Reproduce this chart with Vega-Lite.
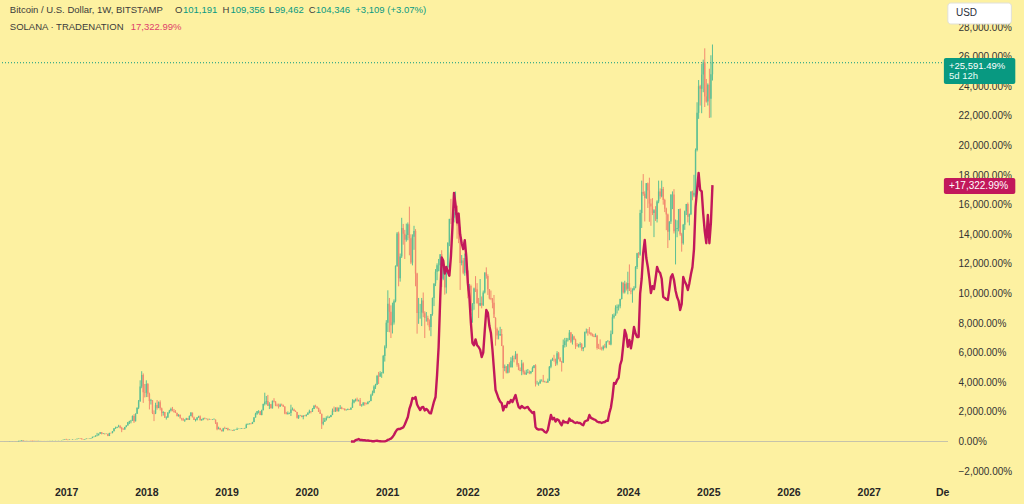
{
"$schema":"https://vega.github.io/schema/vega-lite/v6.json",
"width":948,"height":480,
"autosize":{"type":"none"},
"padding":{"left":0,"top":0,"right":76,"bottom":24},
"background":"#fdf1a1",
"config":{"view":{"stroke":null},"font":"Liberation Sans"},
"resolve":{"axis":{"x":"independent","y":"independent"}},
"datasets":{
"btc":[
{"d":"2016-03-28","o":2,"h":5,"l":0,"c":4},{"d":"2016-04-04","o":4,"h":6,"l":1,"c":3},{"d":"2016-04-11","o":3,"h":7,"l":2,"c":5},{"d":"2016-04-18","o":5,"h":13,"l":4,"c":11},{"d":"2016-04-25","o":11,"h":14,"l":8,"c":11},{"d":"2016-05-02","o":11,"h":16,"l":9,"c":13},{"d":"2016-05-09","o":13,"h":15,"l":10,"c":12},{"d":"2016-05-16","o":12,"h":13,"l":7,"c":9},{"d":"2016-05-23","o":9,"h":18,"l":7,"c":16},{"d":"2016-05-30","o":16,"h":48,"l":15,"c":42},{"d":"2016-06-06","o":42,"h":50,"l":38,"c":45},{"d":"2016-06-13","o":45,"h":92,"l":44,"c":87},{"d":"2016-06-20","o":87,"h":95,"l":40,"c":64},{"d":"2016-06-27","o":64,"h":72,"l":55,"c":66},{"d":"2016-07-04","o":66,"h":70,"l":55,"c":60},{"d":"2016-07-11","o":60,"h":68,"l":56,"c":64},{"d":"2016-07-18","o":64,"h":67,"l":58,"c":62},{"d":"2016-07-25","o":62,"h":64,"l":50,"c":54},{"d":"2016-08-01","o":54,"h":57,"l":20,"c":45},{"d":"2016-08-08","o":45,"h":50,"l":38,"c":40},{"d":"2016-08-15","o":40,"h":45,"l":38,"c":43},{"d":"2016-08-22","o":43,"h":46,"l":40,"c":42},{"d":"2016-08-29","o":42,"h":51,"l":40,"c":49},{"d":"2016-09-05","o":49,"h":56,"l":47,"c":54},{"d":"2016-09-12","o":54,"h":56,"l":49,"c":50},{"d":"2016-09-19","o":50,"h":52,"l":46,"c":48},{"d":"2016-09-26","o":48,"h":52,"l":46,"c":50},{"d":"2016-10-03","o":50,"h":53,"l":49,"c":51},{"d":"2016-10-10","o":51,"h":59,"l":50,"c":58},{"d":"2016-10-17","o":58,"h":62,"l":55,"c":61},{"d":"2016-10-24","o":61,"h":75,"l":60,"c":72},{"d":"2016-10-31","o":72,"h":82,"l":65,"c":74},{"d":"2016-11-07","o":74,"h":78,"l":70,"c":74},{"d":"2016-11-14","o":74,"h":82,"l":70,"c":80},{"d":"2016-11-21","o":80,"h":84,"l":76,"c":81},{"d":"2016-11-28","o":81,"h":90,"l":80,"c":88},{"d":"2016-12-05","o":88,"h":92,"l":86,"c":90},{"d":"2016-12-12","o":90,"h":96,"l":88,"c":94},{"d":"2016-12-19","o":94,"h":122,"l":93,"c":119},{"d":"2016-12-26","o":119,"h":148,"l":117,"c":146},
{"d":"2017-01-02","o":146,"h":183,"l":117,"c":122},{"d":"2017-01-09","o":122,"h":130,"l":85,"c":102},{"d":"2017-01-16","o":102,"h":132,"l":100,"c":127},{"d":"2017-01-23","o":127,"h":130,"l":120,"c":125},{"d":"2017-01-30","o":125,"h":155,"l":123,"c":151},{"d":"2017-02-06","o":151,"h":160,"l":135,"c":146},{"d":"2017-02-13","o":146,"h":162,"l":144,"c":159},{"d":"2017-02-20","o":159,"h":195,"l":157,"c":191},{"d":"2017-02-27","o":191,"h":215,"l":187,"c":213},{"d":"2017-03-06","o":213,"h":227,"l":180,"c":203},{"d":"2017-03-13","o":203,"h":210,"l":145,"c":151},{"d":"2017-03-20","o":151,"h":160,"l":120,"c":138},{"d":"2017-03-27","o":138,"h":170,"l":135,"c":166},{"d":"2017-04-03","o":166,"h":198,"l":164,"c":195},{"d":"2017-04-10","o":195,"h":200,"l":185,"c":191},{"d":"2017-04-17","o":191,"h":210,"l":189,"c":208},{"d":"2017-04-24","o":208,"h":235,"l":205,"c":232},{"d":"2017-05-01","o":232,"h":322,"l":230,"c":319},{"d":"2017-05-08","o":319,"h":340,"l":290,"c":331},{"d":"2017-05-15","o":331,"h":410,"l":325,"c":405},{"d":"2017-05-22","o":405,"h":580,"l":355,"c":417},{"d":"2017-05-29","o":417,"h":530,"l":415,"c":525},{"d":"2017-06-05","o":525,"h":640,"l":520,"c":626},{"d":"2017-06-12","o":626,"h":634,"l":480,"c":516},{"d":"2017-06-19","o":516,"h":570,"l":500,"c":540},{"d":"2017-06-26","o":540,"h":560,"l":470,"c":516},{"d":"2017-07-03","o":516,"h":545,"l":500,"c":516},{"d":"2017-07-10","o":516,"h":520,"l":360,"c":373},{"d":"2017-07-17","o":373,"h":590,"l":365,"c":577},{"d":"2017-07-24","o":577,"h":600,"l":530,"c":570},{"d":"2017-07-31","o":570,"h":700,"l":555,"c":693},{"d":"2017-08-07","o":693,"h":900,"l":690,"c":897},{"d":"2017-08-14","o":897,"h":1003,"l":850,"c":909},{"d":"2017-08-21","o":909,"h":1000,"l":900,"c":971},{"d":"2017-08-28","o":971,"h":1126,"l":965,"c":1033},{"d":"2017-09-04","o":1033,"h":1100,"l":880,"c":934},{"d":"2017-09-11","o":934,"h":990,"l":631,"c":811},{"d":"2017-09-18","o":811,"h":900,"l":780,"c":806},{"d":"2017-09-25","o":806,"h":990,"l":800,"c":978},{"d":"2017-10-02","o":978,"h":1100,"l":960,"c":1087},{"d":"2017-10-09","o":1087,"h":1320,"l":1080,"c":1303},{"d":"2017-10-16","o":1303,"h":1400,"l":1180,"c":1372},{"d":"2017-10-23","o":1372,"h":1460,"l":1230,"c":1409},{"d":"2017-10-30","o":1409,"h":1760,"l":1400,"c":1722},{"d":"2017-11-06","o":1722,"h":1845,"l":1254,"c":1365},{"d":"2017-11-13","o":1365,"h":1900,"l":1360,"c":1870},{"d":"2017-11-20","o":1870,"h":2300,"l":1860,"c":2288},{"d":"2017-11-27","o":2288,"h":2805,"l":2190,"c":2707},{"d":"2017-12-04","o":2707,"h":4135,"l":2700,"c":3716},{"d":"2017-12-11","o":3716,"h":4750,"l":3600,"c":4500},{"d":"2017-12-18","o":4500,"h":4600,"l":2608,"c":3322},{"d":"2017-12-25","o":3322,"h":3888,"l":2978,"c":3300},
{"d":"2018-01-01","o":3300,"h":4135,"l":3000,"c":3888},{"d":"2018-01-08","o":3888,"h":3950,"l":3000,"c":3224},{"d":"2018-01-15","o":3224,"h":3300,"l":2165,"c":2731},{"d":"2018-01-22","o":2731,"h":2880,"l":2500,"c":2781},{"d":"2018-01-29","o":2781,"h":2800,"l":1850,"c":1919},{"d":"2018-02-05","o":1919,"h":2100,"l":1377,"c":1894},{"d":"2018-02-12","o":1894,"h":2620,"l":1850,"c":2460},{"d":"2018-02-19","o":2460,"h":2805,"l":2150,"c":2264},{"d":"2018-02-26","o":2264,"h":2707,"l":2250,"c":2660},{"d":"2018-03-05","o":2660,"h":2781,"l":2100,"c":2239},{"d":"2018-03-12","o":2239,"h":2290,"l":1697,"c":1919},{"d":"2018-03-19","o":1919,"h":2050,"l":1750,"c":1993},{"d":"2018-03-26","o":1993,"h":2000,"l":1599,"c":1599},{"d":"2018-04-02","o":1599,"h":1700,"l":1480,"c":1623},{"d":"2018-04-09","o":1623,"h":1990,"l":1600,"c":1943},{"d":"2018-04-16","o":1943,"h":2140,"l":1900,"c":2091},{"d":"2018-04-23","o":2091,"h":2288,"l":2030,"c":2190},{"d":"2018-04-30","o":2190,"h":2337,"l":2120,"c":2042},{"d":"2018-05-07","o":2042,"h":2200,"l":1950,"c":1993},{"d":"2018-05-14","o":1993,"h":2120,"l":1950,"c":1919},{"d":"2018-05-21","o":1919,"h":1950,"l":1710,"c":1710},{"d":"2018-05-28","o":1710,"h":1850,"l":1680,"c":1796},{"d":"2018-06-04","o":1796,"h":1830,"l":1700,"c":1550},{"d":"2018-06-11","o":1550,"h":1600,"l":1414,"c":1500},{"d":"2018-06-18","o":1500,"h":1600,"l":1414,"c":1414},{"d":"2018-06-25","o":1414,"h":1500,"l":1328,"c":1471},{"d":"2018-07-02","o":1471,"h":1600,"l":1450,"c":1562},{"d":"2018-07-09","o":1562,"h":1590,"l":1450,"c":1463},{"d":"2018-07-16","o":1463,"h":1760,"l":1450,"c":1722},{"d":"2018-07-23","o":1722,"h":1993,"l":1700,"c":1943},{"d":"2018-07-30","o":1943,"h":1960,"l":1650,"c":1623},{"d":"2018-08-06","o":1623,"h":1680,"l":1451,"c":1451},{"d":"2018-08-13","o":1451,"h":1530,"l":1353,"c":1476},{"d":"2018-08-20","o":1476,"h":1650,"l":1420,"c":1623},{"d":"2018-08-27","o":1623,"h":1740,"l":1600,"c":1697},{"d":"2018-09-03","o":1697,"h":1760,"l":1420,"c":1439},{"d":"2018-09-10","o":1439,"h":1530,"l":1400,"c":1500},{"d":"2018-09-17","o":1500,"h":1600,"l":1440,"c":1550},{"d":"2018-09-24","o":1550,"h":1620,"l":1500,"c":1525},{"d":"2018-10-01","o":1525,"h":1560,"l":1500,"c":1525},{"d":"2018-10-08","o":1525,"h":1560,"l":1420,"c":1488},{"d":"2018-10-15","o":1488,"h":1540,"l":1470,"c":1488},{"d":"2018-10-22","o":1488,"h":1500,"l":1460,"c":1476},{"d":"2018-10-29","o":1476,"h":1510,"l":1450,"c":1476},{"d":"2018-11-05","o":1476,"h":1560,"l":1460,"c":1476},{"d":"2018-11-12","o":1476,"h":1490,"l":1180,"c":1279},{"d":"2018-11-19","o":1279,"h":1300,"l":762,"c":836},{"d":"2018-11-26","o":836,"h":1000,"l":830,"c":909},{"d":"2018-12-03","o":909,"h":930,"l":760,"c":786},{"d":"2018-12-10","o":786,"h":800,"l":688,"c":688},{"d":"2018-12-17","o":688,"h":920,"l":680,"c":885},{"d":"2018-12-24","o":885,"h":1000,"l":830,"c":860},{"d":"2018-12-31","o":860,"h":920,"l":840,"c":897},
{"d":"2019-01-07","o":897,"h":930,"l":740,"c":774},{"d":"2019-01-14","o":774,"h":830,"l":760,"c":774},{"d":"2019-01-21","o":774,"h":800,"l":750,"c":774},{"d":"2019-01-28","o":774,"h":780,"l":720,"c":742},{"d":"2019-02-04","o":742,"h":810,"l":720,"c":791},{"d":"2019-02-11","o":791,"h":810,"l":780,"c":791},{"d":"2019-02-18","o":791,"h":934,"l":785,"c":848},{"d":"2019-02-25","o":848,"h":870,"l":840,"c":855},{"d":"2019-03-04","o":855,"h":890,"l":840,"c":860},{"d":"2019-03-11","o":860,"h":900,"l":850,"c":885},{"d":"2019-03-18","o":885,"h":910,"l":870,"c":877},{"d":"2019-03-25","o":877,"h":920,"l":870,"c":909},{"d":"2019-04-01","o":909,"h":1205,"l":905,"c":1143},{"d":"2019-04-08","o":1143,"h":1220,"l":1120,"c":1168},{"d":"2019-04-15","o":1168,"h":1230,"l":1160,"c":1205},{"d":"2019-04-22","o":1205,"h":1250,"l":1150,"c":1193},{"d":"2019-04-29","o":1193,"h":1330,"l":1180,"c":1316},{"d":"2019-05-06","o":1316,"h":1650,"l":1300,"c":1623},{"d":"2019-05-13","o":1623,"h":1943,"l":1620,"c":1870},{"d":"2019-05-20","o":1870,"h":2060,"l":1800,"c":2042},{"d":"2019-05-27","o":2042,"h":2116,"l":1900,"c":2042},{"d":"2019-06-03","o":2042,"h":2050,"l":1783,"c":1783},{"d":"2019-06-10","o":1783,"h":2150,"l":1780,"c":2116},{"d":"2019-06-17","o":2116,"h":2560,"l":2110,"c":2534},{"d":"2019-06-24","o":2534,"h":3298,"l":2436,"c":2682},{"d":"2019-07-01","o":2682,"h":3076,"l":2500,"c":2731},{"d":"2019-07-08","o":2731,"h":3150,"l":2400,"c":2411},{"d":"2019-07-15","o":2411,"h":2650,"l":2190,"c":2510},{"d":"2019-07-22","o":2510,"h":2540,"l":2239,"c":2239},{"d":"2019-07-29","o":2239,"h":2760,"l":2230,"c":2756},{"d":"2019-08-05","o":2756,"h":2928,"l":2640,"c":2707},{"d":"2019-08-12","o":2707,"h":2720,"l":2387,"c":2436},{"d":"2019-08-19","o":2436,"h":2560,"l":2387,"c":2387},{"d":"2019-08-26","o":2387,"h":2560,"l":2230,"c":2362},{"d":"2019-09-02","o":2362,"h":2560,"l":2340,"c":2485},{"d":"2019-09-09","o":2485,"h":2560,"l":2420,"c":2460},{"d":"2019-09-16","o":2460,"h":2500,"l":2330,"c":2362},{"d":"2019-09-23","o":2362,"h":2380,"l":1845,"c":1894},{"d":"2019-09-30","o":1894,"h":2000,"l":1845,"c":1845},{"d":"2019-10-07","o":1845,"h":2030,"l":1830,"c":1919},{"d":"2019-10-14","o":1919,"h":1960,"l":1850,"c":1919},{"d":"2019-10-21","o":1919,"h":2485,"l":1722,"c":2165},{"d":"2019-10-28","o":2165,"h":2300,"l":2100,"c":2165},{"d":"2019-11-04","o":2165,"h":2220,"l":2050,"c":2067},{"d":"2019-11-11","o":2067,"h":2100,"l":1993,"c":1993},{"d":"2019-11-18","o":1993,"h":2000,"l":1550,"c":1599},{"d":"2019-11-25","o":1599,"h":1800,"l":1525,"c":1747},{"d":"2019-12-02","o":1747,"h":1800,"l":1710,"c":1747},{"d":"2019-12-09","o":1747,"h":1760,"l":1648,"c":1648},{"d":"2019-12-16","o":1648,"h":1780,"l":1500,"c":1747},{"d":"2019-12-23","o":1747,"h":1780,"l":1700,"c":1722},{"d":"2019-12-30","o":1722,"h":1830,"l":1690,"c":1808},
{"d":"2020-01-06","o":1808,"h":1980,"l":1800,"c":1919},{"d":"2020-01-13","o":1919,"h":2150,"l":1900,"c":2042},{"d":"2020-01-20","o":2042,"h":2060,"l":1900,"c":2017},{"d":"2020-01-27","o":2017,"h":2260,"l":2000,"c":2202},{"d":"2020-02-03","o":2202,"h":2470,"l":2190,"c":2399},{"d":"2020-02-10","o":2399,"h":2485,"l":2300,"c":2337},{"d":"2020-02-17","o":2337,"h":2400,"l":2200,"c":2276},{"d":"2020-02-24","o":2276,"h":2280,"l":2000,"c":2005},{"d":"2020-03-02","o":2005,"h":2150,"l":1860,"c":1870},{"d":"2020-03-09","o":1870,"h":1880,"l":848,"c":1205},{"d":"2020-03-16","o":1205,"h":1600,"l":1100,"c":1340},{"d":"2020-03-23","o":1340,"h":1600,"l":1330,"c":1439},{"d":"2020-03-30","o":1439,"h":1700,"l":1420,"c":1586},{"d":"2020-04-06","o":1586,"h":1750,"l":1570,"c":1599},{"d":"2020-04-13","o":1599,"h":1700,"l":1580,"c":1648},{"d":"2020-04-20","o":1648,"h":1800,"l":1640,"c":1796},{"d":"2020-04-27","o":1796,"h":2227,"l":1780,"c":2079},{"d":"2020-05-04","o":2079,"h":2362,"l":2000,"c":2042},{"d":"2020-05-11","o":2042,"h":2300,"l":2000,"c":2288},{"d":"2020-05-18","o":2288,"h":2340,"l":2030,"c":2042},{"d":"2020-05-25","o":2042,"h":2300,"l":2030,"c":2227},{"d":"2020-06-01","o":2227,"h":2460,"l":2200,"c":2288},{"d":"2020-06-08","o":2288,"h":2350,"l":2180,"c":2202},{"d":"2020-06-15","o":2202,"h":2250,"l":2170,"c":2190},{"d":"2020-06-22","o":2190,"h":2250,"l":2100,"c":2116},{"d":"2020-06-29","o":2116,"h":2180,"l":2100,"c":2128},{"d":"2020-07-06","o":2128,"h":2230,"l":2120,"c":2177},{"d":"2020-07-13","o":2177,"h":2200,"l":2140,"c":2153},{"d":"2020-07-20","o":2153,"h":2300,"l":2150,"c":2288},{"d":"2020-07-27","o":2288,"h":2854,"l":2280,"c":2633},{"d":"2020-08-03","o":2633,"h":2830,"l":2580,"c":2781},{"d":"2020-08-10","o":2781,"h":2900,"l":2700,"c":2830},{"d":"2020-08-17","o":2830,"h":2965,"l":2700,"c":2768},{"d":"2020-08-24","o":2768,"h":2830,"l":2700,"c":2781},{"d":"2020-08-31","o":2781,"h":2940,"l":2420,"c":2424},{"d":"2020-09-07","o":2424,"h":2530,"l":2350,"c":2443},{"d":"2020-09-14","o":2443,"h":2650,"l":2430,"c":2628},{"d":"2020-09-21","o":2628,"h":2640,"l":2420,"c":2554},{"d":"2020-09-28","o":2554,"h":2620,"l":2500,"c":2530},{"d":"2020-10-05","o":2530,"h":2700,"l":2510,"c":2682},{"d":"2020-10-12","o":2682,"h":2750,"l":2640,"c":2731},{"d":"2020-10-19","o":2731,"h":3220,"l":2720,"c":3125},{"d":"2020-10-26","o":3125,"h":3440,"l":3100,"c":3298},{"d":"2020-11-02","o":3298,"h":3800,"l":3260,"c":3716},{"d":"2020-11-09","o":3716,"h":3900,"l":3550,"c":3839},{"d":"2020-11-16","o":3839,"h":4500,"l":3830,"c":4430},{"d":"2020-11-23","o":4430,"h":4701,"l":3888,"c":4381},{"d":"2020-11-30","o":4381,"h":4750,"l":4400,"c":4615},{"d":"2020-12-07","o":4615,"h":4700,"l":4300,"c":4615},{"d":"2020-12-14","o":4615,"h":5850,"l":4600,"c":5772},{"d":"2020-12-21","o":5772,"h":6500,"l":5400,"c":6424},{"d":"2020-12-28","o":6424,"h":8200,"l":6300,"c":8025},
{"d":"2021-01-04","o":8025,"h":10216,"l":7400,"c":9305},{"d":"2021-01-11","o":9305,"h":9700,"l":7384,"c":8763},{"d":"2021-01-18","o":8763,"h":9200,"l":6991,"c":7853},{"d":"2021-01-25","o":7853,"h":9379,"l":7300,"c":8049},{"d":"2021-02-01","o":8049,"h":9600,"l":7900,"c":9477},{"d":"2021-02-08","o":9477,"h":11900,"l":9400,"c":11865},{"d":"2021-02-15","o":11865,"h":14150,"l":11800,"c":14057},{"d":"2021-02-22","o":14057,"h":14180,"l":10487,"c":11028},{"d":"2021-03-01","o":11028,"h":12700,"l":10800,"c":12505},{"d":"2021-03-08","o":12505,"h":15115,"l":12400,"c":14426},{"d":"2021-03-15","o":14426,"h":14700,"l":13300,"c":14032},{"d":"2021-03-22","o":14032,"h":14300,"l":12333,"c":13638},{"d":"2021-03-29","o":13638,"h":14721,"l":13500,"c":13958},{"d":"2021-04-05","o":13958,"h":14800,"l":13600,"c":14672},{"d":"2021-04-12","o":14672,"h":15866,"l":12580,"c":13737},{"d":"2021-04-19","o":13737,"h":14000,"l":11988,"c":12087},{"d":"2021-04-26","o":12087,"h":14000,"l":11900,"c":13835},{"d":"2021-05-03","o":13835,"h":14574,"l":12949,"c":14229},{"d":"2021-05-10","o":14229,"h":14350,"l":10487,"c":11348},{"d":"2021-05-17","o":11348,"h":11400,"l":7286,"c":8689},{"d":"2021-05-24","o":8689,"h":9700,"l":7950,"c":8714},{"d":"2021-05-31","o":8714,"h":9300,"l":8300,"c":8714},{"d":"2021-06-07","o":8714,"h":9700,"l":7800,"c":9526},{"d":"2021-06-14","o":9526,"h":10068,"l":8400,"c":8665},{"d":"2021-06-21","o":8665,"h":8800,"l":6991,"c":8345},{"d":"2021-06-28","o":8345,"h":8750,"l":8100,"c":8345},{"d":"2021-07-05","o":8345,"h":8500,"l":7850,"c":8100},{"d":"2021-07-12","o":8100,"h":8250,"l":7500,"c":7729},{"d":"2021-07-19","o":7729,"h":8615,"l":7114,"c":8615},{"d":"2021-07-26","o":8615,"h":9723,"l":8500,"c":9700},{"d":"2021-08-02","o":9700,"h":10684,"l":9150,"c":10684},{"d":"2021-08-09","o":10684,"h":11650,"l":10500,"c":11471},{"d":"2021-08-16","o":11471,"h":12038,"l":10900,"c":11915},{"d":"2021-08-23","o":11915,"h":12333,"l":11500,"c":11915},{"d":"2021-08-30","o":11915,"h":12653,"l":11500,"c":12653},{"d":"2021-09-06","o":12653,"h":12924,"l":10438,"c":11004},{"d":"2021-09-13","o":11004,"h":11850,"l":10900,"c":11792},{"d":"2021-09-20","o":11792,"h":11800,"l":9920,"c":10413},{"d":"2021-09-27","o":10413,"h":11767,"l":10000,"c":11767},{"d":"2021-10-04","o":11767,"h":13441,"l":11700,"c":13441},{"d":"2021-10-11","o":13441,"h":15042,"l":13200,"c":15042},{"d":"2021-10-18","o":15042,"h":16395,"l":14700,"c":14992},{"d":"2021-10-25","o":14992,"h":15400,"l":14000,"c":15115},{"d":"2021-11-01","o":15115,"h":15700,"l":14800,"c":15484},{"d":"2021-11-08","o":15484,"h":16888,"l":15300,"c":15905},{"d":"2021-11-15","o":15905,"h":15950,"l":13700,"c":14598},{"d":"2021-11-22","o":14598,"h":14800,"l":13400,"c":14007},{"d":"2021-11-29","o":14007,"h":14500,"l":10240,"c":12062},{"d":"2021-12-06","o":12062,"h":12600,"l":11900,"c":12234},{"d":"2021-12-13","o":12234,"h":12400,"l":11300,"c":11398},{"d":"2021-12-20","o":11398,"h":12700,"l":11200,"c":12407},{"d":"2021-12-27","o":12407,"h":12500,"l":11300,"c":11545},
{"d":"2022-01-03","o":11545,"h":11600,"l":9674,"c":10191},{"d":"2022-01-10","o":10191,"h":10650,"l":9900,"c":10511},{"d":"2022-01-17","o":10511,"h":10600,"l":8550,"c":8837},{"d":"2022-01-24","o":8837,"h":9350,"l":8025,"c":9305},{"d":"2022-01-31","o":9305,"h":10400,"l":8900,"c":10339},{"d":"2022-02-07","o":10339,"h":11176,"l":10100,"c":10290},{"d":"2022-02-14","o":10290,"h":10700,"l":9300,"c":9354},{"d":"2022-02-21","o":9354,"h":9700,"l":8345,"c":9182},{"d":"2022-02-28","o":9182,"h":10979,"l":9150,"c":9354},{"d":"2022-03-07","o":9354,"h":9800,"l":9000,"c":9207},{"d":"2022-03-14","o":9207,"h":10200,"l":9150,"c":10068},{"d":"2022-03-21","o":10068,"h":11423,"l":10000,"c":11423},{"d":"2022-03-28","o":11423,"h":11767,"l":11000,"c":11176},{"d":"2022-04-04","o":11176,"h":11300,"l":9900,"c":10290},{"d":"2022-04-11","o":10290,"h":10300,"l":9600,"c":9674},{"d":"2022-04-18","o":9674,"h":10200,"l":9550,"c":9625},{"d":"2022-04-25","o":9625,"h":9700,"l":9000,"c":9379},{"d":"2022-05-02","o":9379,"h":9900,"l":8600,"c":8345},{"d":"2022-05-09","o":8345,"h":8400,"l":6474,"c":7606},{"d":"2022-05-16","o":7606,"h":7700,"l":6900,"c":7163},{"d":"2022-05-23","o":7163,"h":7500,"l":6900,"c":7163},{"d":"2022-05-30","o":7163,"h":7750,"l":7150,"c":7262},{"d":"2022-06-06","o":7262,"h":7600,"l":6449,"c":6449},{"d":"2022-06-13","o":6449,"h":6500,"l":4233,"c":4972},{"d":"2022-06-20","o":4972,"h":5200,"l":4750,"c":5070},{"d":"2022-06-27","o":5070,"h":5100,"l":4600,"c":4652},{"d":"2022-07-04","o":4652,"h":5218,"l":4600,"c":5218},{"d":"2022-07-11","o":5218,"h":5350,"l":4650,"c":5021},{"d":"2022-07-18","o":5021,"h":5700,"l":5000,"c":5464},{"d":"2022-07-25","o":5464,"h":5800,"l":5000,"c":5637},{"d":"2022-08-01","o":5637,"h":5800,"l":5350,"c":5612},{"d":"2022-08-08","o":5612,"h":6104,"l":5550,"c":5907},{"d":"2022-08-15","o":5907,"h":5950,"l":5050,"c":5193},{"d":"2022-08-22","o":5193,"h":5300,"l":4824,"c":4824},{"d":"2022-08-29","o":4824,"h":5000,"l":4750,"c":4775},{"d":"2022-09-05","o":4775,"h":5513,"l":4479,"c":5267},{"d":"2022-09-12","o":5267,"h":5350,"l":4529,"c":4676},{"d":"2022-09-19","o":4676,"h":4800,"l":4529,"c":4529},{"d":"2022-09-26","o":4529,"h":4850,"l":4500,"c":4652},{"d":"2022-10-03","o":4652,"h":4900,"l":4600,"c":4676},{"d":"2022-10-10","o":4676,"h":4800,"l":4550,"c":4627},{"d":"2022-10-17","o":4627,"h":4760,"l":4550,"c":4726},{"d":"2022-10-24","o":4726,"h":5070,"l":4700,"c":4972},{"d":"2022-10-31","o":4972,"h":5144,"l":4950,"c":5144},{"d":"2022-11-07","o":5144,"h":5220,"l":3716,"c":3913},{"d":"2022-11-14","o":3913,"h":4100,"l":3850,"c":3913},{"d":"2022-11-21","o":3913,"h":4000,"l":3770,"c":3938},{"d":"2022-11-28","o":3938,"h":4200,"l":3900,"c":4110},{"d":"2022-12-05","o":4110,"h":4200,"l":4050,"c":4110},{"d":"2022-12-12","o":4110,"h":4500,"l":4000,"c":4036},{"d":"2022-12-19","o":4036,"h":4100,"l":3990,"c":4036},{"d":"2022-12-26","o":4036,"h":4050,"l":3950,"c":3987},
{"d":"2023-01-02","o":3987,"h":4250,"l":3970,"c":4110},{"d":"2023-01-09","o":4110,"h":5100,"l":4100,"c":5046},{"d":"2023-01-16","o":5046,"h":5550,"l":4950,"c":5489},{"d":"2023-01-23","o":5489,"h":5660,"l":5450,"c":5563},{"d":"2023-01-30","o":5563,"h":5858,"l":5400,"c":5538},{"d":"2023-02-06","o":5538,"h":5600,"l":5100,"c":5267},{"d":"2023-02-13","o":5267,"h":6104,"l":5150,"c":5957},{"d":"2023-02-20","o":5957,"h":6050,"l":5550,"c":5612},{"d":"2023-02-27","o":5612,"h":5700,"l":5380,"c":5415},{"d":"2023-03-06","o":5415,"h":5450,"l":4726,"c":5340},{"d":"2023-03-13","o":5340,"h":6892,"l":5300,"c":6523},{"d":"2023-03-20","o":6523,"h":7000,"l":6350,"c":6769},{"d":"2023-03-27","o":6769,"h":7000,"l":6400,"c":6843},{"d":"2023-04-03","o":6843,"h":7000,"l":6750,"c":6868},{"d":"2023-04-10","o":6868,"h":7532,"l":6850,"c":7360},{"d":"2023-04-17","o":7360,"h":7400,"l":6650,"c":6745},{"d":"2023-04-24","o":6745,"h":7250,"l":6550,"c":7089},{"d":"2023-05-01","o":7089,"h":7150,"l":6850,"c":6892},{"d":"2023-05-08","o":6892,"h":6950,"l":6252,"c":6498},{"d":"2023-05-15","o":6498,"h":6650,"l":6400,"c":6474},{"d":"2023-05-22","o":6474,"h":6600,"l":6350,"c":6523},{"d":"2023-05-29","o":6523,"h":6700,"l":6350,"c":6572},{"d":"2023-06-05","o":6572,"h":6650,"l":6129,"c":6252},{"d":"2023-06-12","o":6252,"h":6380,"l":6100,"c":6375},{"d":"2023-06-19","o":6375,"h":7409,"l":6350,"c":7409},{"d":"2023-06-26","o":7409,"h":7631,"l":7300,"c":7434},{"d":"2023-07-03","o":7434,"h":7600,"l":7150,"c":7360},{"d":"2023-07-10","o":7360,"h":7729,"l":7250,"c":7335},{"d":"2023-07-17","o":7335,"h":7400,"l":7150,"c":7237},{"d":"2023-07-24","o":7237,"h":7300,"l":7100,"c":7114},{"d":"2023-07-31","o":7114,"h":7250,"l":7050,"c":7065},{"d":"2023-08-07","o":7065,"h":7300,"l":7050,"c":7139},{"d":"2023-08-14","o":7139,"h":7200,"l":6205,"c":6326},{"d":"2023-08-21","o":6326,"h":6600,"l":6250,"c":6301},{"d":"2023-08-28","o":6301,"h":6900,"l":6200,"c":6277},{"d":"2023-09-04","o":6277,"h":6400,"l":6150,"c":6252},{"d":"2023-09-11","o":6252,"h":6500,"l":6150,"c":6424},{"d":"2023-09-18","o":6424,"h":6600,"l":6300,"c":6375},{"d":"2023-09-25","o":6375,"h":6769,"l":6300,"c":6769},{"d":"2023-10-02","o":6769,"h":6850,"l":6700,"c":6769},{"d":"2023-10-09","o":6769,"h":6800,"l":6550,"c":6548},{"d":"2023-10-16","o":6548,"h":7500,"l":6500,"c":7286},{"d":"2023-10-23","o":7286,"h":8600,"l":7250,"c":8394},{"d":"2023-10-30","o":8394,"h":8650,"l":8300,"c":8517},{"d":"2023-11-06","o":8517,"h":9200,"l":8500,"c":9034},{"d":"2023-11-13","o":9034,"h":9260,"l":8650,"c":9108},{"d":"2023-11-20","o":9108,"h":9260,"l":8850,"c":9133},{"d":"2023-11-27","o":9133,"h":9650,"l":9000,"c":9625},{"d":"2023-12-04","o":9625,"h":10800,"l":9600,"c":10733},{"d":"2023-12-11","o":10733,"h":10750,"l":10000,"c":10093},{"d":"2023-12-18","o":10093,"h":10860,"l":10000,"c":10659},{"d":"2023-12-25","o":10659,"h":10750,"l":10200,"c":10314},
{"d":"2024-01-01","o":10314,"h":11471,"l":9945,"c":10708},{"d":"2024-01-08","o":10708,"h":11964,"l":10250,"c":10167},{"d":"2024-01-15","o":10167,"h":10400,"l":9950,"c":10142},{"d":"2024-01-22","o":10142,"h":10350,"l":9379,"c":10240},{"d":"2024-01-29","o":10240,"h":10500,"l":10200,"c":10388},{"d":"2024-02-05","o":10388,"h":11850,"l":10350,"c":11792},{"d":"2024-02-12","o":11792,"h":12750,"l":11650,"c":12727},{"d":"2024-02-19","o":12727,"h":12800,"l":12400,"c":12629},{"d":"2024-02-26","o":12629,"h":15657,"l":12550,"c":15436},{"d":"2024-03-04","o":15436,"h":17627,"l":14427,"c":16864},{"d":"2024-03-11","o":16864,"h":18070,"l":16600,"c":16741},{"d":"2024-03-18","o":16741,"h":16900,"l":14869,"c":16445},{"d":"2024-03-25","o":16445,"h":17455,"l":16400,"c":17455},{"d":"2024-04-01","o":17455,"h":17500,"l":15781,"c":16963},{"d":"2024-04-08","o":16963,"h":17825,"l":14845,"c":16076},{"d":"2024-04-15","o":16076,"h":16400,"l":14574,"c":15879},{"d":"2024-04-22","o":15879,"h":16445,"l":15300,"c":15436},{"d":"2024-04-29","o":15436,"h":15700,"l":13811,"c":15633},{"d":"2024-05-06","o":15633,"h":15900,"l":14900,"c":15042},{"d":"2024-05-13","o":15042,"h":16300,"l":14800,"c":16224},{"d":"2024-05-20","o":16224,"h":17627,"l":16100,"c":16888},{"d":"2024-05-27","o":16888,"h":17100,"l":16400,"c":16568},{"d":"2024-06-03","o":16568,"h":17627,"l":16500,"c":17061},{"d":"2024-06-10","o":17061,"h":17200,"l":16000,"c":16322},{"d":"2024-06-17","o":16322,"h":16400,"l":15500,"c":15731},{"d":"2024-06-24","o":15731,"h":15800,"l":14279,"c":15337},{"d":"2024-07-01","o":15337,"h":15400,"l":13072,"c":14180},{"d":"2024-07-08","o":14180,"h":14869,"l":13600,"c":14869},{"d":"2024-07-15","o":14869,"h":16692,"l":14700,"c":16692},{"d":"2024-07-22","o":16692,"h":16900,"l":15700,"c":16692},{"d":"2024-07-29","o":16692,"h":17050,"l":14057,"c":14205},{"d":"2024-08-05","o":14205,"h":15000,"l":11964,"c":14353},{"d":"2024-08-12","o":14353,"h":14950,"l":13800,"c":14426},{"d":"2024-08-19","o":14426,"h":15707,"l":14200,"c":15707},{"d":"2024-08-26","o":15707,"h":15750,"l":13900,"c":14008},{"d":"2024-09-02","o":14008,"h":14100,"l":12826,"c":13392},{"d":"2024-09-09","o":13392,"h":14700,"l":13300,"c":14648},{"d":"2024-09-16","o":14648,"h":15600,"l":14300,"c":15559},{"d":"2024-09-23","o":15559,"h":16051,"l":15300,"c":16051},{"d":"2024-09-30","o":16051,"h":16150,"l":14800,"c":15190},{"d":"2024-10-07","o":15190,"h":15400,"l":14600,"c":15362},{"d":"2024-10-14","o":15362,"h":16900,"l":15300,"c":16888},{"d":"2024-10-21","o":16888,"h":16950,"l":16300,"c":16618},{"d":"2024-10-28","o":16618,"h":18021,"l":16500,"c":16815},{"d":"2024-11-04","o":16815,"h":19800,"l":16500,"c":19695},{"d":"2024-11-11","o":19695,"h":22921,"l":19600,"c":22207},{"d":"2024-11-18","o":22207,"h":24423,"l":21800,"c":24004},{"d":"2024-11-25","o":24004,"h":24100,"l":22700,"c":23832},{"d":"2024-12-02","o":23832,"h":25506,"l":22182,"c":24792},{"d":"2024-12-09","o":24792,"h":25801,"l":23600,"c":25604},{"d":"2024-12-16","o":25604,"h":26565,"l":22601,"c":23315},{"d":"2024-12-23","o":23315,"h":24496,"l":22900,"c":22970},{"d":"2024-12-30","o":22970,"h":24200,"l":22700,"c":24103},
{"d":"2025-01-06","o":24103,"h":25186,"l":21862,"c":23167},{"d":"2025-01-13","o":23167,"h":26097,"l":21887,"c":24816},{"d":"2025-01-20","o":24814,"h":26824,"l":24389,"c":25591}
],
"sol":[
{"d":"2020-07-20","v":0},{"d":"2020-07-27","v":-4},{"d":"2020-08-03","v":-7},{"d":"2020-08-10","v":92},{"d":"2020-08-17","v":119},{"d":"2020-08-24","v":165},{"d":"2020-08-31","v":99},{"d":"2020-09-07","v":99},{"d":"2020-09-14","v":86},{"d":"2020-09-21","v":86},{"d":"2020-09-28","v":59},{"d":"2020-10-05","v":66},{"d":"2020-10-12","v":52},{"d":"2020-10-19","v":46},{"d":"2020-10-26","v":13},{"d":"2020-11-02","v":19},{"d":"2020-11-09","v":39},{"d":"2020-11-16","v":52},{"d":"2020-11-23","v":26},{"d":"2020-11-30","v":19},{"d":"2020-12-07","v":6},{"d":"2020-12-14","v":6},{"d":"2020-12-21","v":6},{"d":"2020-12-28","v":39},
{"d":"2021-01-04","v":112},{"d":"2021-01-11","v":150},{"d":"2021-01-18","v":200},{"d":"2021-01-25","v":300},{"d":"2021-02-01","v":450},{"d":"2021-02-08","v":650},{"d":"2021-02-15","v":800},{"d":"2021-02-22","v":850},{"d":"2021-03-01","v":850},{"d":"2021-03-08","v":900},{"d":"2021-03-15","v":950},{"d":"2021-03-22","v":1150},{"d":"2021-03-29","v":1400},{"d":"2021-04-05","v":1655},{"d":"2021-04-12","v":2200},{"d":"2021-04-19","v":2500},{"d":"2021-04-26","v":2939},{"d":"2021-05-03","v":2900},{"d":"2021-05-10","v":3007},{"d":"2021-05-17","v":2500},{"d":"2021-05-24","v":2300},{"d":"2021-05-31","v":2128},{"d":"2021-06-07","v":2300},{"d":"2021-06-14","v":2331},{"d":"2021-06-21","v":2100},{"d":"2021-06-28","v":2200},{"d":"2021-07-05","v":2100},{"d":"2021-07-12","v":1926},{"d":"2021-07-19","v":1900},{"d":"2021-07-26","v":2300},{"d":"2021-08-02","v":2700},{"d":"2021-08-09","v":3007},{"d":"2021-08-16","v":4500},{"d":"2021-08-23","v":6385},{"d":"2021-08-30","v":9500},{"d":"2021-09-06","v":12432},{"d":"2021-09-13","v":12230},{"d":"2021-09-20","v":11351},{"d":"2021-09-27","v":11800},{"d":"2021-10-04","v":11453},{"d":"2021-10-11","v":11200},{"d":"2021-10-18","v":12500},{"d":"2021-10-25","v":14493},{"d":"2021-11-01","v":16790},{"d":"2021-11-08","v":16000},{"d":"2021-11-15","v":14800},{"d":"2021-11-22","v":15400},{"d":"2021-11-29","v":14000},{"d":"2021-12-06","v":13400},{"d":"2021-12-13","v":13000},{"d":"2021-12-20","v":13600},{"d":"2021-12-27","v":12500},
{"d":"2022-01-03","v":10700},{"d":"2022-01-10","v":9764},{"d":"2022-01-17","v":8000},{"d":"2022-01-24","v":6655},{"d":"2022-01-31","v":6500},{"d":"2022-02-07","v":6900},{"d":"2022-02-14","v":6500},{"d":"2022-02-21","v":6385},{"d":"2022-02-28","v":6200},{"d":"2022-03-07","v":5709},{"d":"2022-03-14","v":6000},{"d":"2022-03-21","v":7500},{"d":"2022-03-28","v":8885},{"d":"2022-04-04","v":8700},{"d":"2022-04-11","v":7800},{"d":"2022-04-18","v":7331},{"d":"2022-04-25","v":6200},{"d":"2022-05-02","v":4831},{"d":"2022-05-09","v":3480},{"d":"2022-05-16","v":3200},{"d":"2022-05-23","v":2900},{"d":"2022-05-30","v":2700},{"d":"2022-06-06","v":2601},{"d":"2022-06-13","v":2100},{"d":"2022-06-20","v":2400},{"d":"2022-06-27","v":2331},{"d":"2022-07-04","v":2669},{"d":"2022-07-11","v":2600},{"d":"2022-07-18","v":2800},{"d":"2022-07-25","v":2669},{"d":"2022-08-01","v":2900},{"d":"2022-08-08","v":3142},{"d":"2022-08-15","v":2700},{"d":"2022-08-22","v":2331},{"d":"2022-08-29","v":2250},{"d":"2022-09-05","v":2400},{"d":"2022-09-12","v":2300},{"d":"2022-09-19","v":2250},{"d":"2022-09-26","v":2300},{"d":"2022-10-03","v":2331},{"d":"2022-10-10","v":2150},{"d":"2022-10-17","v":2050},{"d":"2022-10-24","v":1926},{"d":"2022-10-31","v":2000},{"d":"2022-11-07","v":980},{"d":"2022-11-14","v":850},{"d":"2022-11-21","v":800},{"d":"2022-11-28","v":820},{"d":"2022-12-05","v":820},{"d":"2022-12-12","v":760},{"d":"2022-12-19","v":642},{"d":"2022-12-26","v":600},
{"d":"2023-01-02","v":777},{"d":"2023-01-09","v":1300},{"d":"2023-01-16","v":1791},{"d":"2023-01-23","v":1500},{"d":"2023-01-30","v":1600},{"d":"2023-02-06","v":1350},{"d":"2023-02-13","v":1500},{"d":"2023-02-20","v":1453},{"d":"2023-02-27","v":1250},{"d":"2023-03-06","v":1100},{"d":"2023-03-13","v":1400},{"d":"2023-03-20","v":1300},{"d":"2023-03-27","v":1300},{"d":"2023-04-03","v":1250},{"d":"2023-04-10","v":1550},{"d":"2023-04-17","v":1400},{"d":"2023-04-24","v":1400},{"d":"2023-05-01","v":1300},{"d":"2023-05-08","v":1250},{"d":"2023-05-15","v":1300},{"d":"2023-05-22","v":1250},{"d":"2023-05-29","v":1250},{"d":"2023-06-05","v":1150},{"d":"2023-06-12","v":1100},{"d":"2023-06-19","v":1350},{"d":"2023-06-26","v":1400},{"d":"2023-07-03","v":1450},{"d":"2023-07-10","v":1791},{"d":"2023-07-17","v":1600},{"d":"2023-07-24","v":1550},{"d":"2023-07-31","v":1500},{"d":"2023-08-07","v":1453},{"d":"2023-08-14","v":1350},{"d":"2023-08-21","v":1300},{"d":"2023-08-28","v":1300},{"d":"2023-09-04","v":1250},{"d":"2023-09-11","v":1300},{"d":"2023-09-18","v":1318},{"d":"2023-09-25","v":1400},{"d":"2023-10-02","v":1400},{"d":"2023-10-09","v":1926},{"d":"2023-10-16","v":2300},{"d":"2023-10-23","v":3000},{"d":"2023-10-30","v":3953},{"d":"2023-11-06","v":3900},{"d":"2023-11-13","v":4155},{"d":"2023-11-20","v":4300},{"d":"2023-11-27","v":5169},{"d":"2023-12-04","v":5500},{"d":"2023-12-11","v":6500},{"d":"2023-12-18","v":7534},{"d":"2023-12-25","v":7200},
{"d":"2024-01-01","v":6400},{"d":"2024-01-08","v":6858},{"d":"2024-01-15","v":6300},{"d":"2024-01-22","v":6900},{"d":"2024-01-29","v":7736},{"d":"2024-02-05","v":7300},{"d":"2024-02-12","v":7061},{"d":"2024-02-19","v":7061},{"d":"2024-02-26","v":10000},{"d":"2024-03-04","v":11000},{"d":"2024-03-11","v":12736},{"d":"2024-03-18","v":13615},{"d":"2024-03-25","v":12400},{"d":"2024-04-01","v":11790},{"d":"2024-04-08","v":11000},{"d":"2024-04-15","v":10034},{"d":"2024-04-22","v":10500},{"d":"2024-04-29","v":10300},{"d":"2024-05-06","v":11000},{"d":"2024-05-13","v":11790},{"d":"2024-05-20","v":11500},{"d":"2024-05-27","v":11385},{"d":"2024-06-03","v":11000},{"d":"2024-06-10","v":9764},{"d":"2024-06-17","v":9700},{"d":"2024-06-24","v":9600},{"d":"2024-07-01","v":9561},{"d":"2024-07-08","v":10300},{"d":"2024-07-15","v":11115},{"d":"2024-07-22","v":11300},{"d":"2024-07-29","v":10912},{"d":"2024-08-05","v":10200},{"d":"2024-08-12","v":9764},{"d":"2024-08-19","v":9500},{"d":"2024-08-26","v":8885},{"d":"2024-09-02","v":9300},{"d":"2024-09-09","v":11115},{"d":"2024-09-16","v":10800},{"d":"2024-09-23","v":10600},{"d":"2024-09-30","v":10236},{"d":"2024-10-07","v":10700},{"d":"2024-10-14","v":11300},{"d":"2024-10-21","v":11790},{"d":"2024-10-28","v":13000},{"d":"2024-11-04","v":15845},{"d":"2024-11-11","v":17000},{"d":"2024-11-18","v":18150},{"d":"2024-11-25","v":17000},{"d":"2024-12-02","v":16900},{"d":"2024-12-09","v":15400},{"d":"2024-12-16","v":14200},{"d":"2024-12-23","v":13400},{"d":"2024-12-30","v":15300},{"d":"2025-01-06","v":13400},{"d":"2025-01-13","v":14800},{"d":"2025-01-20","v":17322.99}
]
},
"layer":[
{"data":{"values":[{}]},"mark":{"type":"rule","color":"#c6c3aa","strokeWidth":1},
 "encoding":{"y":{"datum":0,"type":"quantitative","scale":{"domain":[-2601,29831],"nice":false,"zero":false},"axis":null}}},
{"data":{"values":[{}]},"mark":{"type":"rule","color":"#089981","strokeWidth":1,"strokeDash":[1,2]},
 "encoding":{"y":{"datum":25591.49,"type":"quantitative","scale":{"domain":[-2601,29831],"nice":false,"zero":false},"axis":null}}},
{"data":{"name":"btc"},"mark":{"type":"rule","strokeWidth":1},
 "encoding":{
  "x":{"field":"d","type":"temporal","scale":{"type":"utc","domain":[{"year":2016,"month":3,"date":29,"utc":true},{"year":2027,"month":12,"date":5,"utc":true}],"nice":false},
   "axis":{"values":[{"year":2017,"month":1,"date":1,"utc":true},{"year":2018,"month":1,"date":1,"utc":true},{"year":2019,"month":1,"date":1,"utc":true},{"year":2020,"month":1,"date":1,"utc":true},{"year":2021,"month":1,"date":1,"utc":true},{"year":2022,"month":1,"date":1,"utc":true},{"year":2023,"month":1,"date":1,"utc":true},{"year":2024,"month":1,"date":1,"utc":true},{"year":2025,"month":1,"date":1,"utc":true},{"year":2026,"month":1,"date":1,"utc":true},{"year":2027,"month":1,"date":1,"utc":true},{"year":2027,"month":12,"date":1,"utc":true}],
   "labelExpr":"utcFormat(datum.value,'%m') == '12' ? 'De' : utcFormat(datum.value,'%Y')",
   "title":null,"ticks":false,"domain":false,"grid":false,"labelPadding":7,"labelFontSize":10.5,"labelFontWeight":"bold","labelColor":"#262626","labelFont":"Liberation Sans","labelFlush":false,"labelOverlap":false}},
  "y":{"field":"l","type":"quantitative","scale":{"domain":[-2601,29831],"nice":false,"zero":false},
   "axis":{"orient":"right","values":[-2000,0,2000,4000,6000,8000,10000,12000,14000,16000,18000,20000,22000,24000,26000,28000],
   "labelExpr":"format(datum.value, ',.2f') + '%'","title":null,"ticks":false,"domain":false,"grid":false,"labelPadding":10,"labelFontSize":10,"labelColor":"#333333","labelFont":"Liberation Sans","labelAlign":"left","labelBaseline":"middle","labelFlush":false,"labelOverlap":false}},
  "y2":{"field":"h"},
  "color":{"condition":{"test":"datum.c >= datum.o","value":"#5dbf94"},"value":"#f28a70"}
 }},
{"data":{"name":"btc"},"mark":{"type":"bar","width":1.4},
 "encoding":{
  "x":{"field":"d","type":"temporal","scale":{"type":"utc","domain":[{"year":2016,"month":3,"date":29,"utc":true},{"year":2027,"month":12,"date":5,"utc":true}],"nice":false},"axis":null},
  "y":{"field":"o","type":"quantitative","scale":{"domain":[-2601,29831],"nice":false,"zero":false},"axis":null},
  "y2":{"field":"c"},
  "color":{"condition":{"test":"datum.c >= datum.o","value":"#5dbf94"},"value":"#f28a70"}
 }},
{"data":{"name":"sol"},"mark":{"type":"line","color":"#c2185b","strokeWidth":2.4,"strokeJoin":"round"},
 "encoding":{
  "x":{"field":"d","type":"temporal","scale":{"type":"utc","domain":[{"year":2016,"month":3,"date":29,"utc":true},{"year":2027,"month":12,"date":5,"utc":true}],"nice":false},"axis":null},
  "y":{"field":"v","type":"quantitative","scale":{"domain":[-2601,29831],"nice":false,"zero":false},"axis":null}
 }},
{"data":{"values":[{}]},"mark":{"type":"rect","color":"#089981","cornerRadius":2,"clip":false},
 "encoding":{
  "x":{"datum":{"year":2027,"month":12,"date":9,"utc":true},"type":"temporal","scale":{"type":"utc","domain":[{"year":2016,"month":3,"date":29,"utc":true},{"year":2027,"month":12,"date":5,"utc":true}],"nice":false},"axis":null},
  "x2":{"datum":{"year":2028,"month":10,"date":29,"utc":true}},
  "y":{"datum":25912,"type":"quantitative","scale":{"domain":[-2601,29831],"nice":false,"zero":false},"axis":null},
  "y2":{"datum":24155}
 }},
{"data":{"values":[{}]},"mark":{"type":"rect","color":"#c2185b","cornerRadius":2,"clip":false},
 "encoding":{
  "x":{"datum":{"year":2027,"month":12,"date":9,"utc":true},"type":"temporal","scale":{"type":"utc","domain":[{"year":2016,"month":3,"date":29,"utc":true},{"year":2027,"month":12,"date":5,"utc":true}],"nice":false},"axis":null},
  "x2":{"datum":{"year":2028,"month":10,"date":29,"utc":true}},
  "y":{"datum":17804,"type":"quantitative","scale":{"domain":[-2601,29831],"nice":false,"zero":false},"axis":null},
  "y2":{"datum":16723}
 }},
{"data":{"values":[{}]},"mark":{"type":"rect","color":"#ffffff","stroke":"#e0e0d8","strokeWidth":1,"cornerRadius":3,"clip":false},
 "encoding":{
  "x":{"datum":{"year":2027,"month":12,"date":27,"utc":true},"type":"temporal","scale":{"type":"utc","domain":[{"year":2016,"month":3,"date":29,"utc":true},{"year":2027,"month":12,"date":5,"utc":true}],"nice":false},"axis":null},
  "x2":{"datum":{"year":2028,"month":10,"date":11,"utc":true}},
  "y":{"datum":29628,"type":"quantitative","scale":{"domain":[-2601,29831],"nice":false,"zero":false},"axis":null},
  "y2":{"datum":28210}
 }},
{"data":{"values":[{}]},"mark":{"type":"text","align":"left","baseline":"middle","fontSize":10,"color":"#2a2e39","clip":false},
 "encoding":{
  "x":{"datum":{"year":2028,"month":2,"date":2,"utc":true},"type":"temporal","scale":{"type":"utc","domain":[{"year":2016,"month":3,"date":29,"utc":true},{"year":2027,"month":12,"date":5,"utc":true}],"nice":false},"axis":null},
  "y":{"datum":28986,"type":"quantitative","scale":{"domain":[-2601,29831],"nice":false,"zero":false},"axis":null},
  "text":{"value":"USD"}
 }},
{"data":{"values":[{}]},"mark":{"type":"text","align":"left","baseline":"middle","fontSize":9.5,"color":"#ffffff","clip":false},
 "encoding":{
  "x":{"datum":{"year":2028,"month":1,"date":1,"utc":true},"type":"temporal","scale":{"type":"utc","domain":[{"year":2016,"month":3,"date":29,"utc":true},{"year":2027,"month":12,"date":5,"utc":true}],"nice":false},"axis":null},
  "y":{"datum":25338,"type":"quantitative","scale":{"domain":[-2601,29831],"nice":false,"zero":false},"axis":null},
  "text":{"value":"+25,591.49%"}
 }},
{"data":{"values":[{}]},"mark":{"type":"text","align":"left","baseline":"middle","fontSize":9.5,"color":"#e8fff8","clip":false},
 "encoding":{
  "x":{"datum":{"year":2028,"month":1,"date":1,"utc":true},"type":"temporal","scale":{"type":"utc","domain":[{"year":2016,"month":3,"date":29,"utc":true},{"year":2027,"month":12,"date":5,"utc":true}],"nice":false},"axis":null},
  "y":{"datum":24696,"type":"quantitative","scale":{"domain":[-2601,29831],"nice":false,"zero":false},"axis":null},
  "text":{"value":"5d 12h"}
 }},
{"data":{"values":[{}]},"mark":{"type":"text","align":"left","baseline":"middle","fontSize":10,"color":"#ffffff","clip":false},
 "encoding":{
  "x":{"datum":{"year":2028,"month":1,"date":1,"utc":true},"type":"temporal","scale":{"type":"utc","domain":[{"year":2016,"month":3,"date":29,"utc":true},{"year":2027,"month":12,"date":5,"utc":true}],"nice":false},"axis":null},
  "y":{"datum":17264,"type":"quantitative","scale":{"domain":[-2601,29831],"nice":false,"zero":false},"axis":null},
  "text":{"value":"+17,322.99%"}
 }},
{"data":{"values":[{"t":"Bitcoin / U.S. Dollar, 1W, BITSTAMP"}]},"mark":{"type":"text","align":"left","baseline":"middle","fontSize":9.5,"color":"#3b3b3b"},
 "encoding":{
  "x":{"datum":{"year":2016,"month":4,"date":20,"utc":true},"type":"temporal","scale":{"type":"utc","domain":[{"year":2016,"month":3,"date":29,"utc":true},{"year":2027,"month":12,"date":5,"utc":true}],"nice":false},"axis":null},
  "y":{"datum":29155,"type":"quantitative","scale":{"domain":[-2601,29831],"nice":false,"zero":false},"axis":null},
  "text":{"field":"t"}
 }},
{"data":{"values":[{"t":"O"}]},"mark":{"type":"text","align":"left","baseline":"middle","fontSize":9.5,"color":"#3b3b3b"},
 "encoding":{
  "x":{"datum":{"year":2018,"month":5,"date":12,"utc":true},"type":"temporal","scale":{"type":"utc","domain":[{"year":2016,"month":3,"date":29,"utc":true},{"year":2027,"month":12,"date":5,"utc":true}],"nice":false},"axis":null},
  "y":{"datum":29155,"type":"quantitative","scale":{"domain":[-2601,29831],"nice":false,"zero":false},"axis":null},
  "text":{"field":"t"}
 }},
{"data":{"values":[{"t":"101,191"}]},"mark":{"type":"text","align":"left","baseline":"middle","fontSize":9.5,"color":"#089981"},
 "encoding":{
  "x":{"datum":{"year":2018,"month":6,"date":17,"utc":true},"type":"temporal","scale":{"type":"utc","domain":[{"year":2016,"month":3,"date":29,"utc":true},{"year":2027,"month":12,"date":5,"utc":true}],"nice":false},"axis":null},
  "y":{"datum":29155,"type":"quantitative","scale":{"domain":[-2601,29831],"nice":false,"zero":false},"axis":null},
  "text":{"field":"t"}
 }},
{"data":{"values":[{"t":"H"}]},"mark":{"type":"text","align":"left","baseline":"middle","fontSize":9.5,"color":"#3b3b3b"},
 "encoding":{
  "x":{"datum":{"year":2018,"month":12,"date":14,"utc":true},"type":"temporal","scale":{"type":"utc","domain":[{"year":2016,"month":3,"date":29,"utc":true},{"year":2027,"month":12,"date":5,"utc":true}],"nice":false},"axis":null},
  "y":{"datum":29155,"type":"quantitative","scale":{"domain":[-2601,29831],"nice":false,"zero":false},"axis":null},
  "text":{"field":"t"}
 }},
{"data":{"values":[{"t":"109,356"}]},"mark":{"type":"text","align":"left","baseline":"middle","fontSize":9.5,"color":"#089981"},
 "encoding":{
  "x":{"datum":{"year":2019,"month":1,"date":19,"utc":true},"type":"temporal","scale":{"type":"utc","domain":[{"year":2016,"month":3,"date":29,"utc":true},{"year":2027,"month":12,"date":5,"utc":true}],"nice":false},"axis":null},
  "y":{"datum":29155,"type":"quantitative","scale":{"domain":[-2601,29831],"nice":false,"zero":false},"axis":null},
  "text":{"field":"t"}
 }},
{"data":{"values":[{"t":"L"}]},"mark":{"type":"text","align":"left","baseline":"middle","fontSize":9.5,"color":"#3b3b3b"},
 "encoding":{
  "x":{"datum":{"year":2019,"month":7,"date":12,"utc":true},"type":"temporal","scale":{"type":"utc","domain":[{"year":2016,"month":3,"date":29,"utc":true},{"year":2027,"month":12,"date":5,"utc":true}],"nice":false},"axis":null},
  "y":{"datum":29155,"type":"quantitative","scale":{"domain":[-2601,29831],"nice":false,"zero":false},"axis":null},
  "text":{"field":"t"}
 }},
{"data":{"values":[{"t":"99,462"}]},"mark":{"type":"text","align":"left","baseline":"middle","fontSize":9.5,"color":"#089981"},
 "encoding":{
  "x":{"datum":{"year":2019,"month":8,"date":8,"utc":true},"type":"temporal","scale":{"type":"utc","domain":[{"year":2016,"month":3,"date":29,"utc":true},{"year":2027,"month":12,"date":5,"utc":true}],"nice":false},"axis":null},
  "y":{"datum":29155,"type":"quantitative","scale":{"domain":[-2601,29831],"nice":false,"zero":false},"axis":null},
  "text":{"field":"t"}
 }},
{"data":{"values":[{"t":"C"}]},"mark":{"type":"text","align":"left","baseline":"middle","fontSize":9.5,"color":"#3b3b3b"},
 "encoding":{
  "x":{"datum":{"year":2020,"month":1,"date":10,"utc":true},"type":"temporal","scale":{"type":"utc","domain":[{"year":2016,"month":3,"date":29,"utc":true},{"year":2027,"month":12,"date":5,"utc":true}],"nice":false},"axis":null},
  "y":{"datum":29155,"type":"quantitative","scale":{"domain":[-2601,29831],"nice":false,"zero":false},"axis":null},
  "text":{"field":"t"}
 }},
{"data":{"values":[{"t":"104,346"}]},"mark":{"type":"text","align":"left","baseline":"middle","fontSize":9.5,"color":"#089981"},
 "encoding":{
  "x":{"datum":{"year":2020,"month":2,"date":11,"utc":true},"type":"temporal","scale":{"type":"utc","domain":[{"year":2016,"month":3,"date":29,"utc":true},{"year":2027,"month":12,"date":5,"utc":true}],"nice":false},"axis":null},
  "y":{"datum":29155,"type":"quantitative","scale":{"domain":[-2601,29831],"nice":false,"zero":false},"axis":null},
  "text":{"field":"t"}
 }},
{"data":{"values":[{"t":"+3,109 (+3.07%)"}]},"mark":{"type":"text","align":"left","baseline":"middle","fontSize":9.5,"color":"#089981"},
 "encoding":{
  "x":{"datum":{"year":2020,"month":8,"date":9,"utc":true},"type":"temporal","scale":{"type":"utc","domain":[{"year":2016,"month":3,"date":29,"utc":true},{"year":2027,"month":12,"date":5,"utc":true}],"nice":false},"axis":null},
  "y":{"datum":29155,"type":"quantitative","scale":{"domain":[-2601,29831],"nice":false,"zero":false},"axis":null},
  "text":{"field":"t"}
 }},
{"data":{"values":[{"t":"SOLANA · TRADENATION"}]},"mark":{"type":"text","align":"left","baseline":"middle","fontSize":9.5,"color":"#3b3b3b"},
 "encoding":{
  "x":{"datum":{"year":2016,"month":4,"date":20,"utc":true},"type":"temporal","scale":{"type":"utc","domain":[{"year":2016,"month":3,"date":29,"utc":true},{"year":2027,"month":12,"date":5,"utc":true}],"nice":false},"axis":null},
  "y":{"datum":28007,"type":"quantitative","scale":{"domain":[-2601,29831],"nice":false,"zero":false},"axis":null},
  "text":{"field":"t"}
 }},
{"data":{"values":[{"t":"17,322.99%"}]},"mark":{"type":"text","align":"left","baseline":"middle","fontSize":9.5,"color":"#dd3f6b"},
 "encoding":{
  "x":{"datum":{"year":2017,"month":10,"date":22,"utc":true},"type":"temporal","scale":{"type":"utc","domain":[{"year":2016,"month":3,"date":29,"utc":true},{"year":2027,"month":12,"date":5,"utc":true}],"nice":false},"axis":null},
  "y":{"datum":28007,"type":"quantitative","scale":{"domain":[-2601,29831],"nice":false,"zero":false},"axis":null},
  "text":{"field":"t"}
 }}
]
}
